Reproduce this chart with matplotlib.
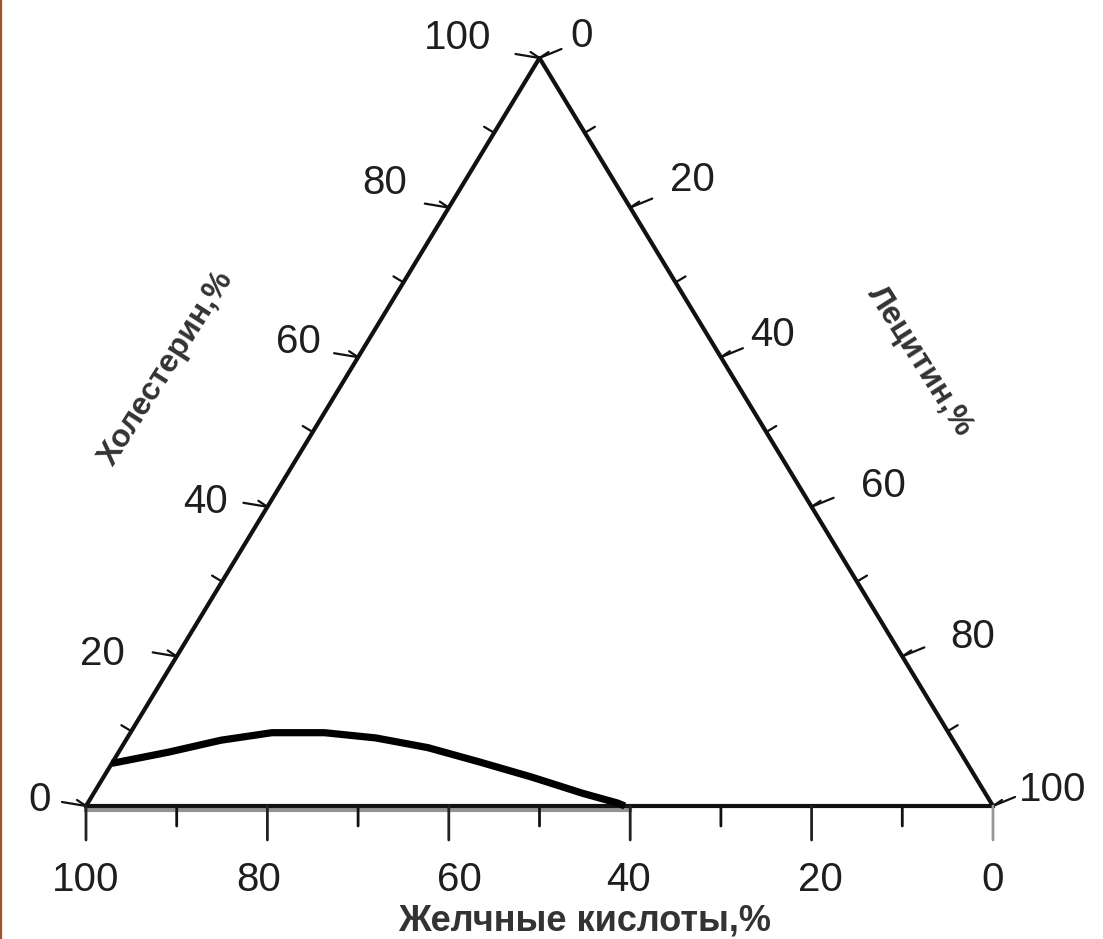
import matplotlib.pyplot as plt
import numpy as np

# тройная диаграмма: холестерин / лецитин / желчные кислоты (%)
ticks_major = [0, 20, 40, 60, 80, 100]
ticks_minor = [10, 30, 50, 70, 90]

# граница зоны растворимости холестерина (холестерин %, лецитин %)
curve_chol = [5.7, 7.2, 8.8, 9.8, 9.8, 9.1, 7.8, 5.9, 3.9, 1.7, 0.4, 0.0]
curve_lec = [0.0, 5.5, 10.5, 15.6, 21.4, 27.4, 33.8, 40.4, 47.1, 53.9, 58.4, 59.4]

label_chol = 'Холестерин,%'
label_lec = 'Лецитин,%'
label_bile = 'Желчные кислоты,%'

# сдвиги подписей (пиксели) — рисунок в оригинале слегка перекошен
off_left = {0: (-46, 6), 20: (-74, 2), 40: (-62, 5), 60: (-60, 15), 80: (-64, 25), 100: (-82, 20)}
off_right = {0: (42, 22), 20: (62, 28), 40: (52, 22), 60: (72, 21), 80: (70, 19), 100: (60, 16)}
off_bottom = {0: 0, 20: 9, 40: -2, 60: 11, 80: -9, 100: 0}

plt.rcParams['font.family'] = ['Liberation Sans', 'DejaVu Sans']
INK = '#111111'


def tern(chol, lec):
    # (холестерин, лецитин) -> декартовы координаты треугольника
    chol = np.asarray(chol, dtype=float) / 100
    lec = np.asarray(lec, dtype=float) / 100
    return lec + chol / 2, chol


fig = plt.figure(figsize=(11.03, 9.39), dpi=100)
fig.patch.set_facecolor('white')
ax = fig.add_axes([86 / 1103, 133 / 939, 907 / 1103, 748 / 939])
ax.set_xlim(0, 1)
ax.set_ylim(0, 1)
ax.axis('off')

# стороны треугольника
ax.plot([0, 0.5], [0, 1], color=INK, lw=3.0, solid_capstyle='round', clip_on=False)
ax.plot([0.5, 1], [1, 0], color=INK, lw=3.0, solid_capstyle='round', clip_on=False)
ax.plot([0, 1], [0, 0], color=INK, lw=3.0, clip_on=False)
ax.plot([0, 0.6], [-0.005, -0.005], color='#666666', lw=3.0, alpha=0.7, clip_on=False)


def seg(x, y, dx, dy, lw=1.6, color=INK):
    ax.annotate('', xy=(x, y), xytext=(dx, dy), textcoords='offset pixels',
                arrowprops=dict(arrowstyle='-', lw=lw, color=color,
                                shrinkA=0, shrinkB=0), annotation_clip=False)


def lab(x, y, dx, dy, s):
    ax.annotate(s, xy=(x, y), xytext=(dx, dy), textcoords='offset pixels',
                ha='center', va='center', fontsize=29, color='#1e1e1e',
                annotation_clip=False)


# левая шкала — холестерин
for v in ticks_major:
    x, y = tern(v, 0)
    seg(x, y, -24, 4)
    seg(x, y, -9, 6)
    lab(x, y, *off_left[v], str(v))
for v in ticks_minor:
    x, y = tern(v, 0)
    seg(x, y, -10, 6)

# правая шкала — лецитин
for v in ticks_major:
    x, y = tern(100 - v, v)
    seg(x, y, 22, 9)
    seg(x, y, 9, 6)
    lab(x, y, *off_right[v], str(v))
for v in ticks_minor:
    x, y = tern(100 - v, v)
    seg(x, y, 10, 6)

# нижняя шкала — желчные кислоты
for v in ticks_major:
    x, y = tern(0, 100 - v)
    seg(x, y, 0, -34, lw=2.0, color='#222222' if v else '#999999')
    lab(x, y, off_bottom[v], -74, str(v))
for v in ticks_minor:
    x, y = tern(0, 100 - v)
    seg(x, y, 0, -20, lw=2.0)

# кривая
cx, cy = tern(curve_chol, curve_lec)
ax.plot(cx, cy, color='black', lw=5.2, solid_capstyle='butt',
        solid_joinstyle='round', clip_on=False)

# подписи осей
ax.text(0.089, 0.585, label_chol, rotation=57.5, ha='center', va='center',
        fontsize=23, fontweight='bold', color='#333333', transform=ax.transAxes)
ax.text(0.919, 0.595, label_lec, rotation=-57.5, ha='center', va='center',
        fontsize=23, fontweight='bold', color='#333333', transform=ax.transAxes)
fig.text(585 / 1103, 1 - 921 / 939, label_bile, ha='center', va='center',
         fontsize=26, fontweight='bold', color='#333333')

# рамка слева
fig.add_artist(plt.Line2D([0.001, 0.001], [0, 1], color='#a0522d', lw=1.6,
                          transform=fig.transFigure))

fig.savefig('out.png', dpi=100, facecolor='white')
